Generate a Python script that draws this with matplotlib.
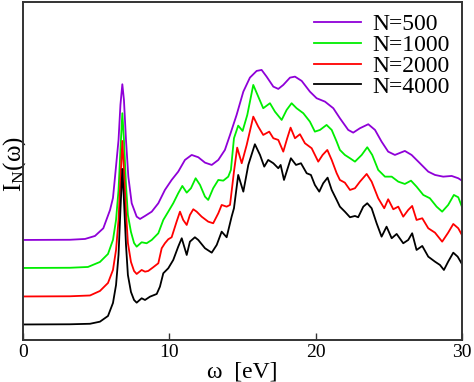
import matplotlib
matplotlib.use("Agg")
import matplotlib.pyplot as plt

# spectra (arbitrary units, curves already offset)
w_500 = [0, 3.21, 4.24, 4.92, 5.49, 5.95, 6.15, 6.29, 6.53, 6.66, 6.79, 6.90, 7.04, 7.20, 7.43,
         7.77, 8.00, 8.34, 8.80, 9.25, 9.70, 10.16, 10.61, 11.07, 11.53, 11.98, 12.44, 12.90,
         13.35, 13.80, 14.15, 14.60, 15.06, 15.51, 15.97, 16.31, 16.65, 17.11, 17.45, 17.79,
         18.25, 18.59, 19.05, 19.61, 20.07, 20.64, 21.21, 21.66, 22.23, 22.57, 23.03, 23.60,
         24.06, 24.51, 24.96, 25.42, 26.10, 26.56, 27.13, 27.70, 28.16, 28.72, 29.30, 29.75, 30.0]
I_500 = [100, 100.2, 101, 104, 111.7, 130, 142, 163, 200, 235, 255.7, 240, 200, 163.3, 136.7,
         123.3, 121, 124, 128.3, 136.7, 150, 160, 168.3, 180, 185, 182.7, 177.3, 175,
         180, 190, 205, 225, 248.3, 262.3, 269, 270, 263.3, 253.3, 251, 255,
         262.3, 263.3, 259, 248.3, 241.7, 238.3, 231.7, 221.7, 210, 207.3, 211.7, 215.7,
         210, 198.3, 188.3, 185, 189, 185, 176.7, 168.3, 165, 163.3, 164, 161.7, 159.3]

w_1000 = [0, 3.21, 4.44, 5.26, 5.81, 6.15, 6.36, 6.53, 6.66, 6.79, 6.90, 7.04, 7.17, 7.38, 7.59,
          7.77, 8.11, 8.45, 8.80, 9.25, 9.59, 9.93, 10.27, 10.61, 10.89, 11.19, 11.48, 11.80,
          12.10, 12.44, 12.66, 13.00, 13.35, 13.69, 14.03, 14.21, 14.42, 14.71, 15.01, 15.33,
          15.74, 16.08, 16.42, 16.88, 17.22, 17.68, 18.02, 18.36, 18.70, 19.16, 19.61, 19.95,
          20.30, 20.75, 21.10, 21.44, 21.66, 22.00, 22.35, 22.69, 23.15, 23.53, 23.87, 24.28,
          24.74, 25.20, 25.65, 26.10, 26.52, 26.90, 27.36, 27.81, 28.27, 28.65, 29.06, 29.45,
          29.75, 30.0]
I_1000 = [72, 72.2, 73, 78, 86, 100, 120, 150, 190, 226.7, 200, 155, 125, 108, 97,
          93.3, 97.7, 96.7, 100, 106.7, 120, 128.3, 136.7, 146.7, 154, 147.3, 151.7, 161.7,
          155, 143.3, 140, 151.7, 160, 159.3, 163.3, 170, 201.7, 214.3, 209, 225,
          255, 243.3, 231.7, 236.7, 228.3, 220, 230, 236.7, 231.7, 226.7, 218.3, 208.3,
          210, 215, 210, 198.3, 190, 185, 181.7, 178.3, 185, 192.7, 185, 170,
          163.3, 163.3, 158.3, 156, 159.3, 153.3, 145, 141.7, 133.3, 128.3, 135, 145,
          142.7, 133.3]

w_2000 = [0, 3.21, 4.58, 5.26, 5.81, 6.15, 6.36, 6.53, 6.66, 6.79, 6.90, 7.04, 7.17, 7.38, 7.59,
          7.77, 8.11, 8.34, 8.56, 8.90, 9.25, 9.48, 9.70, 9.93, 10.16, 10.50, 10.73, 10.95,
          11.19, 11.41, 11.64, 11.87, 12.21, 12.66, 13.00, 13.35, 13.58, 13.92, 14.15, 14.42,
          14.64, 14.95, 15.29, 15.74, 16.08, 16.42, 16.83, 17.11, 17.45, 17.79, 18.06, 18.29,
          18.59, 18.93, 19.27, 19.73, 20.18, 20.48, 20.80, 21.10, 21.44, 21.66, 22.00, 22.35,
          22.69, 23.03, 23.49, 23.83, 24.28, 24.69, 24.96, 25.31, 25.65, 25.99, 26.33, 26.60,
          26.90, 27.29, 27.70, 28.16, 28.65, 29.06, 29.41, 29.75, 30.0]
I_2000 = [43.5, 43.7, 44.5, 49, 57, 70, 90, 120, 160, 199, 170, 128, 97, 78, 69,
          66, 70, 68.3, 69, 72.7, 76.7, 91.7, 96.7, 100.7, 102.7, 118.3, 128.3, 120,
          115, 125, 130.7, 128.3, 123.3, 118.3, 116.7, 126.7, 135, 133.3, 135, 168.3,
          192.3, 176.7, 195, 223.3, 213.3, 205, 208.3, 201.7, 200, 188.3, 201.7, 212.3,
          201.7, 205.7, 196.7, 191.7, 178.3, 185, 190, 180, 166.7, 160, 157.3, 150,
          151.7, 158.3, 166, 158.3, 141.7, 131.7, 140.7, 130.7, 133.3, 123.3, 130, 134,
          120, 121.7, 111.7, 107.3, 98.3, 107.3, 116, 111.7, 105]

w_4000 = [0, 3.21, 4.58, 5.26, 5.81, 6.15, 6.36, 6.53, 6.66, 6.79, 6.90, 7.04, 7.17, 7.38, 7.59,
          7.77, 8.11, 8.34, 8.68, 9.14, 9.36, 9.59, 9.93, 10.27, 10.61, 10.85, 11.19, 11.41,
          11.75, 11.98, 12.44, 12.90, 13.24, 13.58, 13.92, 14.26, 14.42, 14.71, 15.06, 15.40,
          15.85, 16.20, 16.49, 16.76, 17.11, 17.45, 17.61, 17.84, 18.02, 18.31, 18.66, 19.00,
          19.39, 19.68, 19.95, 20.25, 20.52, 20.82, 21.10, 21.44, 21.66, 22.00, 22.35, 22.69,
          22.91, 23.26, 23.53, 23.83, 24.17, 24.51, 24.85, 25.20, 25.54, 25.99, 26.33, 26.60,
          26.90, 27.29, 27.70, 28.16, 28.50, 28.77, 29.06, 29.41, 29.71, 30.0]
I_4000 = [15.5, 15.7, 16.2, 18.3, 24, 37, 55, 85, 130, 171, 140, 95, 65, 48, 40,
          37.3, 41.7, 40, 43.3, 46, 53.3, 66.7, 71.7, 80, 93.3, 101.7, 85, 98.3,
          102.7, 100, 91.7, 87.3, 95, 108.3, 102.7, 123.3, 131.7, 165, 148.3, 175,
          195.7, 185, 173.3, 180, 176.7, 171.7, 175, 160, 168.3, 181.7, 175, 176.7,
          166.7, 165, 155, 148.3, 156.7, 162.3, 150, 140, 133.3, 128.3, 122.7, 124,
          122.7, 133.3, 136.7, 131.7, 116.7, 103.3, 113.3, 101.7, 106, 96.7, 100, 106.7,
          90, 94, 83.3, 78.3, 75, 70, 78.3, 87.3, 83.3, 76]

labels = ["N=500", "N=1000", "N=2000", "N=4000"]
colors = ["#8f00d8", "#00ee00", "#ff0000", "#000000"]
xticks = [0, 10, 20, 30]

plt.rcParams['font.family'] = ['Liberation Serif', 'DejaVu Serif']
plt.rcParams['mathtext.fontset'] = 'custom'
plt.rcParams['mathtext.rm'] = 'Liberation Serif'
plt.rcParams['mathtext.it'] = 'Liberation Serif:italic'

fig = plt.figure(figsize=(4.74, 3.82), dpi=100)
ax = fig.add_axes([0.0485, 0.110, 0.926, 0.885])

series = [(w_500, I_500), (w_1000, I_1000), (w_2000, I_2000), (w_4000, I_4000)]
for (w, I), lab, c in zip(series, labels, colors):
    ax.plot(w, I, color=c, lw=1.3, label=lab)

ax.set_xlim(0, 30)
ax.set_ylim(0, 338)
ax.set_xticks(xticks)
ax.set_yticks([])
ax.tick_params(axis='x', direction='in', length=5, width=1, pad=3, labelsize=14, color='#333333')
for s in ax.spines.values():
    s.set_color('#333333')
    s.set_linewidth(1.4)

ax.set_xlabel("ω  [eV]", fontsize=17, labelpad=0)
ax.set_ylabel(r"I$_{\rm N}$(ω)", fontsize=18)
ax.yaxis.set_label_coords(0.011, 0.52)

ax.legend(loc='upper right', frameon=False, fontsize=17, handlelength=2.0,
          handletextpad=0.5, labelspacing=-0.03, borderaxespad=0.1,
          bbox_to_anchor=(1.0, 1.0))

fig.savefig("out.png", dpi=100)
